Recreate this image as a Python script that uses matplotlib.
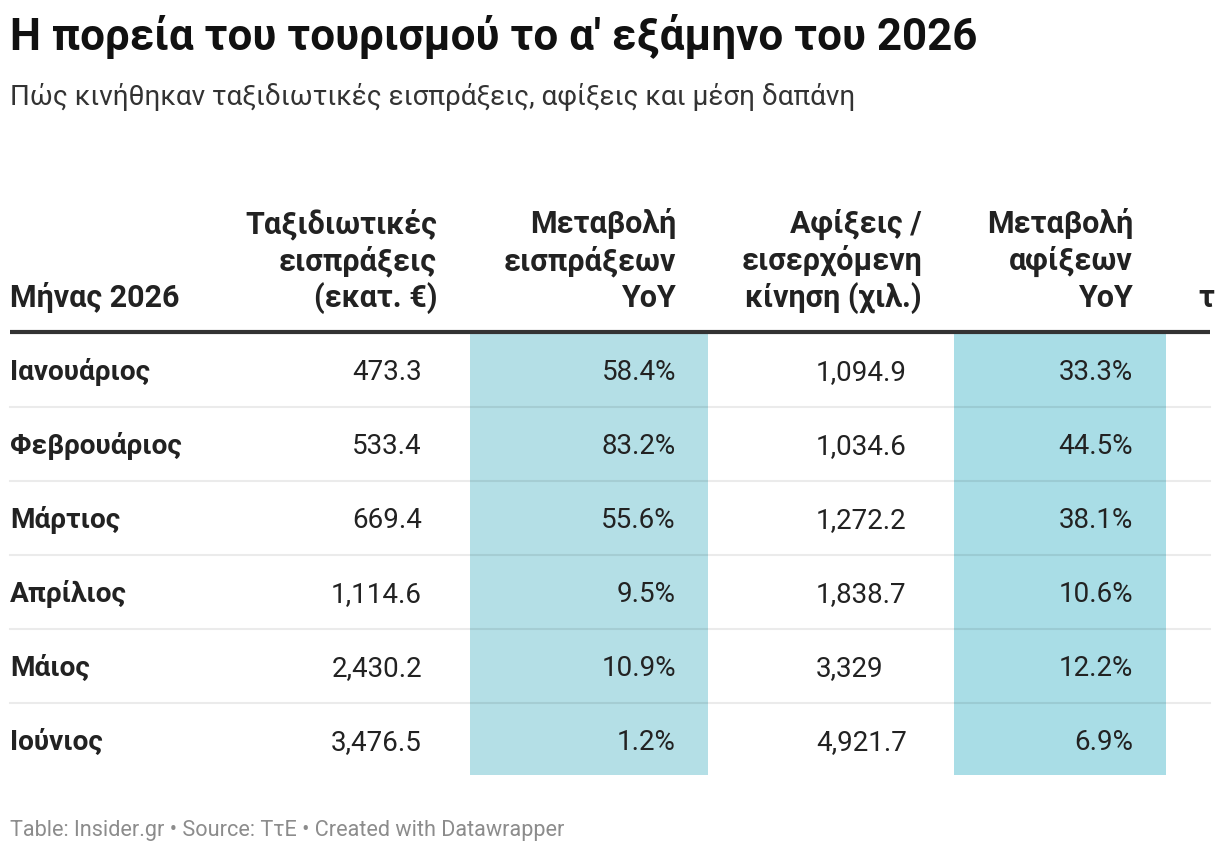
import matplotlib.pyplot as plt
from matplotlib.patches import Rectangle

plt.rcParams['font.family'] = ['Roboto', 'DejaVu Sans']

# table data
months = ['Ιανουάριος', 'Φεβρουάριος', 'Μάρτιος', 'Απρίλιος', 'Μάιος', 'Ιούνιος']
receipts = ['473.3', '533.4', '669.4', '1,114.6', '2,430.2', '3,476.5']
receipts_yoy = ['58.4%', '83.2%', '55.6%', '9.5%', '10.9%', '1.2%']
arrivals = ['1,094.9', '1,034.6', '1,272.2', '1,838.7', '3,329', '4,921.7']
arrivals_yoy = ['33.3%', '44.5%', '38.1%', '10.6%', '12.2%', '6.9%']

headers = ['Μήνας 2026',
           'Ταξιδιωτικές\nεισπράξεις\n(εκατ. €)',
           'Μεταβολή\nεισπράξεων\nYoY',
           'Αφίξεις /\nεισερχόμενη\nκίνηση (χιλ.)',
           'Μεταβολή\nαφίξεων\nYoY',
           'τ']

W, H = 1220, 852
fig = plt.figure(figsize=(W / 100, H / 100), dpi=100)
ax = fig.add_axes([0, 0, 1, 1])
ax.set_xlim(0, W)
ax.set_ylim(H, 0)
ax.axis('off')

dark = '#222222'

fig.text(10 / W, 1 - 50 / H, 'Η πορεία του τουρισμού το α\' εξάμηνο του 2026',
         fontsize=31.6, fontweight='bold', color='#111111', va='baseline', ha='left')
fig.text(10 / W, 1 - 105 / H, 'Πώς κινήθηκαν ταξιδιωτικές εισπράξεις, αφίξεις και μέση δαπάνη',
         fontsize=20.1, color='#333333', va='baseline', ha='left')

# highlighted columns
ax.add_patch(Rectangle((470, 334), 238, 441, facecolor='#b4dfe6', edgecolor='none', zorder=1))
ax.add_patch(Rectangle((954, 334), 212, 441, facecolor='#a9dde6', edgecolor='none', zorder=1))

# header
hdr_x = [10, 437, 676, 922, 1133, 1198]
hdr_ha = ['left', 'right', 'right', 'right', 'right', 'left']
line_gap = 37
clip = Rectangle((0, 0), 1210, H, transform=ax.transData, facecolor='none', edgecolor='none')
for x, ha, h in zip(hdr_x, hdr_ha, headers):
    lines = h.split('\n')
    for k, ln in enumerate(lines):
        y = 307 - (len(lines) - 1 - k) * line_gap
        t = ax.text(x, y, ln, fontsize=22, fontweight='bold', color=dark,
                    ha=ha, va='baseline', zorder=3)
        t.set_clip_path(clip)

ax.plot([10, 1210], [332, 332], color='#333333', lw=3, solid_capstyle='butt', zorder=4)

# rows
row_gap = 74
for i in range(len(months)):
    y = 380 + i * row_gap
    ax.text(10, y, months[i], fontsize=20.2, fontweight='bold', color=dark, ha='left', va='baseline', zorder=3)
    ax.text(422, y, receipts[i], fontsize=20, color=dark, ha='right', va='baseline', zorder=3)
    ax.text(676, y, receipts_yoy[i], fontsize=20, color=dark, ha='right', va='baseline', zorder=3)
    ax.text(816, y, arrivals[i], fontsize=20, color=dark, ha='left', va='baseline', zorder=3)
    ax.text(1133, y, arrivals_yoy[i], fontsize=20, color=dark, ha='right', va='baseline', zorder=3)
    if i < len(months) - 1:
        ax.plot([10, 1210], [y + 27, y + 27], color='black', alpha=0.08, lw=1.5, zorder=2)

fig.text(10 / W, 1 - 836 / H, 'Table: Insider.gr • Source: ΤτΕ • Created with Datawrapper',
         fontsize=15.6, color='#8c8c8c', va='baseline', ha='left')

fig.savefig('out.png', dpi=100, facecolor='white')
